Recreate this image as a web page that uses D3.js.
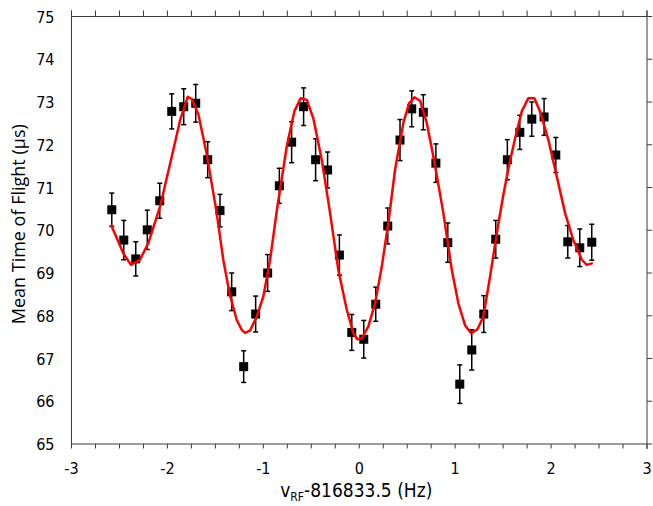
<!DOCTYPE html>
<html>
<head>
<meta charset="utf-8">
<script src="https://cdn.jsdelivr.net/npm/d3@7"></script>
<style>
  html, body { margin: 0; padding: 0; background: #fff; }
  svg { display: block; }
  .tick-label { font-family: "DejaVu Sans Condensed", "DejaVu Sans", sans-serif; font-stretch: condensed; font-size: 16px; fill: #000; }
</style>
</head>
<body>
<svg id="chart" width="653" height="506"></svg>
<script>
// ---- data ----
const freq = [-2.58, -2.455, -2.33, -2.21, -2.08, -1.955, -1.83, -1.705, -1.58, -1.452,
  -1.33, -1.205, -1.08, -0.955, -0.833, -0.705, -0.58, -0.455, -0.33, -0.207,
  -0.078, 0.047, 0.172, 0.297, 0.425, 0.547, 0.668, 0.799, 0.923, 1.048,
  1.173, 1.298, 1.423, 1.544, 1.674, 1.799, 1.927, 2.049, 2.174, 2.299, 2.424];
const meanTOF = [70.48, 69.77, 69.33, 70.01, 70.69, 72.78, 72.89, 72.97, 71.65, 70.46,
  68.56, 66.81, 68.04, 69.00, 71.04, 72.06, 72.89, 71.65, 71.41, 69.42,
  67.61, 67.45, 68.27, 70.10, 72.11, 72.84, 72.76, 71.57, 69.71, 66.40,
  67.20, 68.04, 69.79, 71.65, 72.29, 72.60, 72.65, 71.76, 69.73, 69.59, 69.72];
const errTOF = [0.39, 0.46, 0.40, 0.46, 0.41, 0.41, 0.42, 0.44, 0.42, 0.38,
  0.44, 0.37, 0.42, 0.43, 0.41, 0.48, 0.44, 0.49, 0.42, 0.47,
  0.42, 0.44, 0.40, 0.42, 0.48, 0.42, 0.41, 0.45, 0.46, 0.45,
  0.47, 0.43, 0.44, 0.47, 0.40, 0.40, 0.43, 0.41, 0.38, 0.44, 0.42];

const fitFreq = [-2.588, -2.46, -2.38, -2.286, -2.199, -2.077, -1.955, -1.867, -1.788, -1.747,
  -1.678, -1.59, -1.486, -1.417, -1.347, -1.277, -1.225, -1.191, -1.139, -1.069,
  -1.0, -0.93, -0.86, -0.756, -0.677, -0.61, -0.547, -0.479, -0.391, -0.304,
  -0.218, -0.13, -0.062, -0.02, 0.026, 0.095, 0.165, 0.235, 0.303, 0.373,
  0.46, 0.519, 0.575, 0.634, 0.704, 0.773, 0.835, 0.877, 0.965, 1.033,
  1.103, 1.166, 1.231, 1.294, 1.364, 1.434, 1.5, 1.56, 1.625, 1.694,
  1.763, 1.826, 1.885, 1.972, 2.059, 2.146, 2.232, 2.32, 2.372, 2.435];
const fitTOF = [70.13, 69.46, 69.19, 69.31, 69.70, 70.55, 71.72, 72.58, 73.12, 73.07,
  72.72, 71.78, 70.40, 69.30, 68.47, 67.90, 67.67, 67.60, 67.65, 67.98,
  68.45, 69.30, 70.45, 71.96, 72.78, 73.09, 73.05, 72.62, 71.65, 70.40,
  69.07, 68.14, 67.59, 67.45, 67.47, 67.75, 68.29, 69.15, 70.17, 71.41,
  72.51, 72.97, 73.11, 73.03, 72.51, 71.72, 70.94, 70.40, 69.07, 68.29,
  67.78, 67.59, 67.68, 67.98, 68.92, 69.93, 70.80, 71.50, 72.15, 72.78,
  73.09, 73.09, 72.78, 72.11, 71.26, 70.40, 69.77, 69.31, 69.19, 69.23];

const xTicks = [-3, -2, -1, 0, 1, 2, 3];
const yTicks = [65, 66, 67, 68, 69, 70, 71, 72, 73, 74, 75];
const xMinorTicks = d3.range(-3, 3.001, 0.25);

// ---- layout ----
const svg = d3.select("#chart");
const L = 71.5, R = 647, T = 16.5, B = 444;
const x = d3.scaleLinear().domain([-3, 3]).range([L, R]);
const y = d3.scaleLinear().domain([65, 75]).range([B, T]);
const axisColor = "#3a3a3a";

// frame lines
const g = svg.append("g");
g.append("line").attr("x1", L).attr("x2", R).attr("y1", B).attr("y2", B).attr("stroke", axisColor);
g.append("line").attr("x1", L).attr("x2", R).attr("y1", T).attr("y2", T).attr("stroke", axisColor);
g.append("line").attr("x1", L).attr("x2", L).attr("y1", T - 6).attr("y2", B).attr("stroke", axisColor);
g.append("line").attr("x1", R).attr("x2", R).attr("y1", T - 6).attr("y2", B + 5).attr("stroke", axisColor);

// bottom ticks (outward) every 0.25
g.selectAll(".bt").data(xMinorTicks).join("line")
  .attr("x1", d => x(d)).attr("x2", d => x(d))
  .attr("y1", B).attr("y2", B + 4.5).attr("stroke", axisColor);
// top ticks (outward)
g.selectAll(".tt").data(xMinorTicks).join("line")
  .attr("x1", d => x(d)).attr("x2", d => x(d))
  .attr("y1", T).attr("y2", T - 6).attr("stroke", axisColor);
// right ticks (outward) at majors
g.selectAll(".rt").data(yTicks).join("line")
  .attr("x1", R).attr("x2", R + 5)
  .attr("y1", d => y(d)).attr("y2", d => y(d)).attr("stroke", axisColor);

// tick labels
svg.selectAll(".xl").data(xTicks).join("text")
  .attr("class", "tick-label")
  .attr("x", d => x(d)).attr("y", B + 30)
  .attr("text-anchor", "middle")
  .text(d => d3.format("")(d).replace("−", "-"));
svg.selectAll(".yl").data(yTicks).join("text")
  .attr("class", "tick-label")
  .attr("x", L - 17).attr("y", d => y(d) + 6)
  .attr("text-anchor", "end")
  .text(d => d);

// axis titles
svg.append("text")
  .attr("transform", `translate(25, ${(T + B) / 2 - 6}) rotate(-90)`)
  .attr("text-anchor", "middle")
  .style("font-family", "'Open Sans', 'Noto Sans', sans-serif")
  .style("font-size", "18px")
  .text("Mean Time of Flight (μs)");

const xt = svg.append("text")
  .attr("x", (L + R) / 2 - 3).attr("y", 497)
  .attr("text-anchor", "middle")
  .style("font-family", "'DejaVu Sans Condensed', 'DejaVu Sans', sans-serif")
  .style("font-stretch", "condensed")
  .style("font-size", "19px");
xt.append("tspan").text("v");
xt.append("tspan").attr("dy", 4).style("font-size", "12px").text("RF");
xt.append("tspan").attr("dy", -4).text("-816833.5 (Hz)");

// error bars
const pts = freq.map((f, i) => ({ f, v: meanTOF[i], e: errTOF[i] }));
const eb = svg.append("g").attr("stroke", "#000").attr("stroke-width", 1.5);
eb.selectAll(".ev").data(pts).join("line")
  .attr("x1", d => x(d.f)).attr("x2", d => x(d.f))
  .attr("y1", d => y(d.v - d.e)).attr("y2", d => y(d.v + d.e));
eb.selectAll(".ct").data(pts).join("line")
  .attr("x1", d => x(d.f) - 2.5).attr("x2", d => x(d.f) + 2.5)
  .attr("y1", d => y(d.v + d.e)).attr("y2", d => y(d.v + d.e));
eb.selectAll(".cb").data(pts).join("line")
  .attr("x1", d => x(d.f) - 2.5).attr("x2", d => x(d.f) + 2.5)
  .attr("y1", d => y(d.v - d.e)).attr("y2", d => y(d.v - d.e));

// markers
svg.append("g").selectAll("rect").data(pts).join("rect")
  .attr("x", d => x(d.f) - 4.5).attr("y", d => y(d.v) - 4.5)
  .attr("width", 9).attr("height", 9).attr("fill", "#000");

// fit line
const fit = fitFreq.map((f, i) => [f, fitTOF[i]]);
svg.append("path")
  .datum(fit)
  .attr("fill", "none")
  .attr("stroke", "#ff0000")
  .attr("stroke-width", 2.5)
  .attr("stroke-linejoin", "round")
  .attr("d", d3.line().x(d => x(d[0])).y(d => y(d[1])));
</script>
</body>
</html>
